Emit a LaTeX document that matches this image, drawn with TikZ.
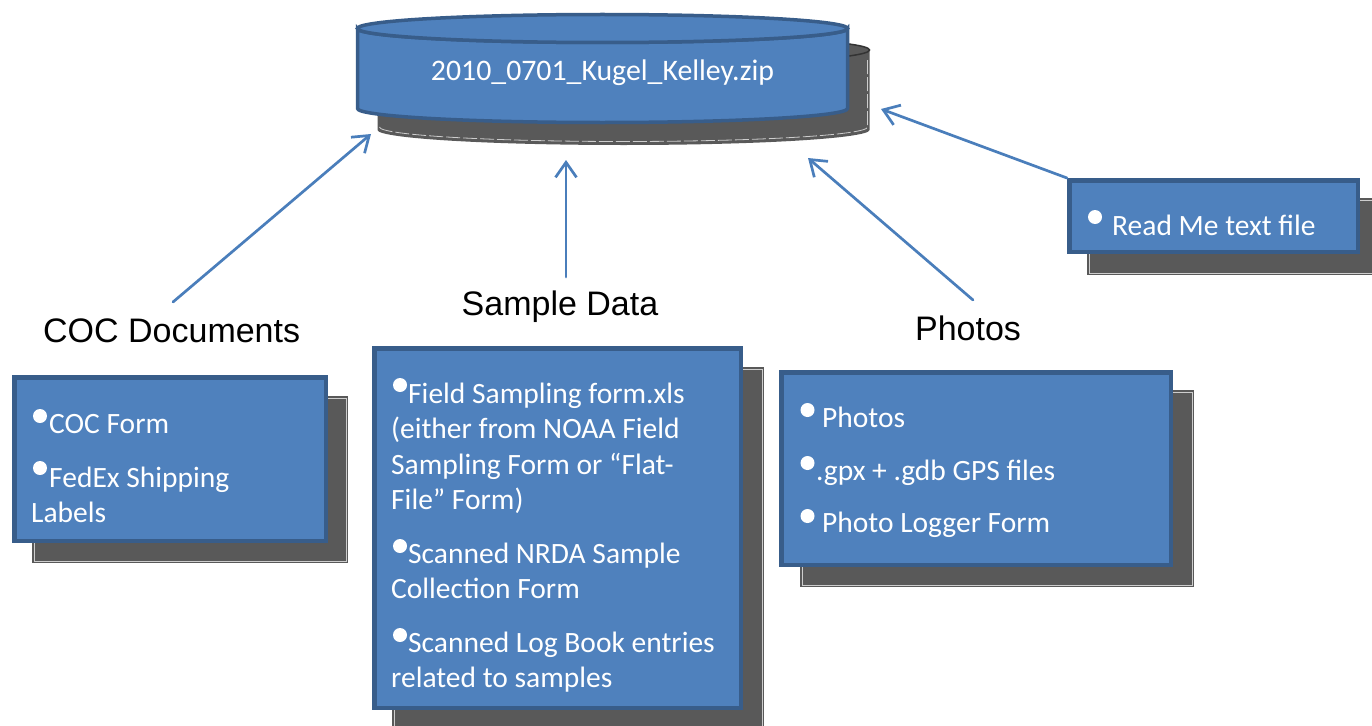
\documentclass[tikz,border=0pt]{standalone}
\usepackage{fontspec}
\setmainfont{Carlito}
\newfontfamily\labelfont{Liberation Sans}
\usetikzlibrary{arrows.meta}
\definecolor{boxblue}{HTML}{4F81BD}
\definecolor{boxedge}{HTML}{385D8A}
\definecolor{arrowblue}{HTML}{4A7EBB}
\definecolor{shadowgray}{HTML}{595959}
\begin{document}
\begin{tikzpicture}[x=1pt,y=-1pt,
  boxtext/.style={text=white, font=\fontsize{29.5}{35}\selectfont, inner sep=0pt, anchor=base west},
  labeltext/.style={text=black, font=\labelfont\fontsize{34}{40}\selectfont, inner sep=0pt},
  frontbox/.style={draw=boxedge, fill=boxblue, line width=4.5pt, inner sep=0pt, rectangle},
  shadowfill/.style={fill=shadowgray},
  shadowline/.style={draw=white!70!shadowgray, line width=0.8pt},
  cyl/.style={draw=boxedge, fill=boxblue, line width=3.5pt},
  link/.style={draw=arrowblue, line width=2.7pt, line cap=round, -{Straight Barb[length=15pt,width=21pt]}},
  bul/.style={fill=white}
]
\useasboundingbox (0,0) rectangle (1372,725);

% ---------- cylinder shadow ----------
\fill[shadowgray] (377.5,50) -- (377.5,130) arc[start angle=180,end angle=0,x radius=246,y radius=15] -- (869.5,50) arc[start angle=0,end angle=180,x radius=246,y radius=15] -- cycle;
\filldraw[fill=shadowgray, draw=black!80, line width=1.5pt] (623.5,50) ellipse[x radius=246, y radius=15];
\draw[shadowline, dash pattern=on 14pt off 3pt] (379.5,127) arc[start angle=180,end angle=0,x radius=244,y radius=14.5] -- (867.5,60);

% ---------- cylinder ----------
\draw[cyl] (357.5,28.5) -- (357.5,108.5) arc[start angle=180,end angle=0,x radius=245,y radius=14] -- (847.5,28.5) arc[start angle=0,end angle=180,x radius=245,y radius=14] -- cycle;
\draw[cyl] (602.5,28.5) ellipse[x radius=245, y radius=14];
\node[boxtext, anchor=base, font=\fontsize{29.8}{35}\selectfont] (zip) at (602.5,80) {2010\_0701\_Kugel\_Kelley.zip};

% ---------- box shadows ----------
\fill[shadowgray] (32,396) rectangle (348,563);
\draw[shadowline] (34,398) rectangle (346,561);
\fill[shadowgray] (392,367) rectangle (764,740);
\draw[shadowline] (394,369) rectangle (762,738);
\fill[shadowgray] (800,390) rectangle (1194,587);
\draw[shadowline] (802,392) rectangle (1192,585);
\fill[shadowgray] (1087,198) rectangle (1380,275);
\draw[shadowline] (1089,200) rectangle (1378,273);

% ---------- front boxes ----------
\node[frontbox, minimum width=311.5pt, minimum height=163.5pt] (coc) at (170,459) {};
\node[frontbox, minimum width=366.5pt, minimum height=359.5pt] (sample) at (557.5,528) {};
\node[frontbox, minimum width=389.5pt, minimum height=192.5pt] (photos) at (976,468.5) {};
\node[frontbox, minimum width=288.5pt, minimum height=71.5pt] (readme) at (1213.5,216) {};

% ---------- bullets ----------
\fill[bul] (40,416) circle (7);
\fill[bul] (40,468) circle (7);
\fill[bul] (400,385) circle (7);
\fill[bul] (400,546) circle (7);
\fill[bul] (400,635) circle (7);
\fill[bul] (807.5,410) circle (7);
\fill[bul] (807.5,463) circle (7);
\fill[bul] (807.5,516) circle (7);
\fill[bul] (1095,217) circle (7);

% ---------- box texts ----------
\node[boxtext] (c1) at (49,433) {COC Form};
\node[boxtext] (c2) at (49,487) {FedEx Shipping};
\node[boxtext] (c3) at (31,522) {Labels};

\node[boxtext] (s1) at (408,403) {Field Sampling form.xls};
\node[boxtext] (s2) at (391,438.5) {(either from NOAA Field};
\node[boxtext] (s3) at (391,474) {Sampling Form or “Flat-};
\node[boxtext] (s4) at (391,509.5) {File” Form)};
\node[boxtext] (s5) at (408,563) {Scanned NRDA Sample};
\node[boxtext] (s6) at (391,598.5) {Collection Form};
\node[boxtext] (s7) at (408,652) {Scanned Log Book entries};
\node[boxtext] (s8) at (391,687.5) {related to samples};

\node[boxtext] (p1) at (822,427) {Photos};
\node[boxtext] (p2) at (816,480) {.gpx + .gdb GPS files};
\node[boxtext] (p3) at (822,532) {Photo Logger Form};

\node[boxtext] (r1) at (1112,235) {Read Me text file};

% ---------- labels ----------
\node[labeltext, anchor=base west] (coclabel) at (43,342) {COC Documents};
\node[labeltext, anchor=base] (samplelabel) at (560,315) {Sample Data};
\node[labeltext, anchor=base] (photoslabel) at (968,340) {Photos};

% ---------- arrows ----------
\coordinate (cocTail) at (173,302);
\coordinate (cocTip) at (371,134);
\coordinate (sampleTail) at (566,277);
\coordinate (sampleTip) at (566,160);
\coordinate (photoTail) at (973,300);
\coordinate (photoTip) at (808,158);
\coordinate (readTip) at (881,109);

\draw[link] (cocTail) -- (cocTip);
\draw[link] (sampleTail) -- (sampleTip);
\draw[link] (photoTail) -- (photoTip);
\draw[link] (readme.north west) -- (readTip);
\end{tikzpicture}
\end{document}
